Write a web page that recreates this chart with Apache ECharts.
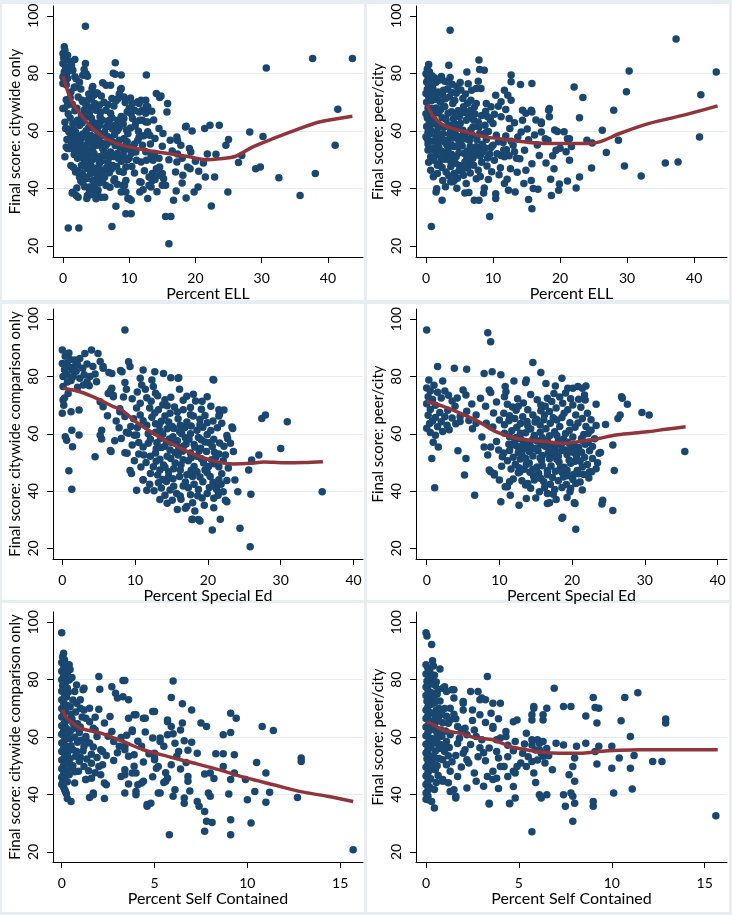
<!DOCTYPE html>
<html><head><meta charset="utf-8">
<script src="https://cdn.jsdelivr.net/npm/echarts@6/dist/echarts.min.js"></script>
<style>html,body{margin:0;padding:0;background:#fff}#c{width:732px;height:915px}</style>
</head><body><div id="c"></div><script>
// ---------- tick labels ----------
const yTicks = [20, 40, 60, 80, 100];
const xTicks40 = [0, 10, 20, 30, 40];
const xTicks15 = [0, 5, 10, 15];

// ---------- axis titles ----------
const xTitles = ['Percent ELL', 'Percent ELL', 'Percent Special Ed', 'Percent Special Ed', 'Percent Self Contained', 'Percent Self Contained'];
const yTitles = ['Final score: citywide only', 'Final score: peer/city', 'Final score: citywide comparison only', 'Final score: peer/city', 'Final score: citywide comparison only', 'Final score: peer/city'];

// ---------- Panel 1: Percent ELL vs citywide ----------
const ellCity = [
[3.4,96.4],[0.2,89.2],[0,86.9],[0.7,86.3],[0.5,84.6],[1.2,84],[0,83.4],[1,82.2],[1.5,81.1],[0.2,80.5],[0,78.8],[0.7,78.2],[0,76.5],[0.5,76],[0.3,88],[0.1,85.5],[0.4,82],[0.6,80],[0.2,77.5],[1.8,84.8],[1.3,82.8],[1,81.1],[1.8,78.8],[1.9,75.3],
[3.4,83.4],[3.2,81.3],[3,79.3],[3.5,79.9],[3.7,79],[7.9,83.7],[7.6,80],[7.9,79.7],[8.8,79.4],[12.6,79.4],
[2,78.1],[2.5,76.9],[1.7,75.2],[1.2,73.5],[2.7,74.6],[4.5,75.4],[4.7,72.5],[5.2,73.1],[6,76.7],[6.5,75.9],[7.2,75.9],[4.4,74.7],[5.1,73.2],[4.3,71.2],[2.3,71.8],[2.9,70.7],
[8.7,74.4],[8.5,72.8],[8,70.5],[7.7,68.7],[8.8,74.7],[8.3,71.2],
[10.5,69.5],[11.3,70.1],[11.8,70.7],[12.5,70.7],[12.8,68.4],[12,67.2],[12.5,66.1],[11.5,66.6],[10.8,67.2],[10.3,66],[11.5,69.5],[12.6,68.6],
[14.1,73],[14.8,72.1],[14.6,71.6],[15.8,69.5],[15.7,66.6],
[9.7,66.6],[9.2,64.3],[10.5,64.3],[10,67.8],[11,63.1],[12,63.7],[12.5,63.1],[11.6,63.7],[12.8,63.1],[12.8,59.7],[13.1,58.5],
[0.5,70.8],[0.7,69],[0.2,67.9],[0,67.8],[0.8,66],[3,70.1],[3.5,68.9],[3.2,67.2],[4,66.1],[5,67.2],[5.7,66.6],[6.5,67.2],[7.2,66.1],[7,63.7],[6,63.7],[5.5,61.9],[6.5,61.3],[7.5,60.7],[8.2,60.1],[8.5,61.3],[8.3,63.7],[8.4,60.8],[6.2,70],[5.5,69],[4.8,69.5],[2.8,65.5],[1.8,67],[0.3,63],[1.5,62.5],[4.5,63],[5.2,60],[8.8,65],
[0.7,60.7],[1.2,58.9],[1.9,59.6],[2.5,61.9],[2.2,63.7],[3,58.9],[3.5,60.1],[4.2,58.4],[4.9,57.8],[1.5,57.3],[0.4,60.8],[0.9,59.7],[0.6,57],[2,56],[2.8,57.5],[3.8,56.5],[5.8,58.5],[6.8,58],[7.8,58.8],[9.8,59],[10.2,61],
[0.7,53.9],[1.5,53.9],[2.5,54.4],[3.5,55],[4.5,53.9],[5.2,55],[6,53.9],[6.7,55.6],[7.5,56.2],[8.5,56.8],[9.2,57.3],[9.7,56.2],[0.5,54.4],[1,53.9],[1.8,53.9],[0.3,51],
[3,52.2],[4,51.5],[4.7,52.2],[5.5,51],[6.5,51.5],[7.2,52.7],[8.2,52.2],[9.2,53.3],[10.3,52.2],[11,52.7],[10.5,54.4],[9.5,55],[10.8,55.5],[11.3,56.8],[11.5,57.9],[12,55],[13.2,55.5],[12.5,52.8],[13.3,51.6],[13.8,52.2],[14.5,50.5],[10,50.5],[2.2,50.5],
[3.2,49.3],[4,48.1],[4.7,46.9],[5.5,48.7],[6,46.4],[5,45.2],[4.2,45.2],[3.7,46.9],[5.7,44],[3.5,44],[2.8,48],[6.8,49],[7.5,48],[8.8,49.5],[9.5,47.5],[6.3,44],[7,45.5],[8.5,46],[1.2,48],[1.9,45.7],[2.5,44],
[11.1,49.8],[11.8,49.2],[12.6,49.8],[13.6,49.8],[14.6,47.5],[14.1,46.9],[13.5,45.2],[13,44],[15,45.2],[14.5,44.6],[15.2,43.4],[15,41.1],[15.5,41.1],
[4.5,42.8],[4,40.5],[4.7,41.1],[5.2,38.7],[3,42],[6.5,41],[7.7,42.8],[7.8,43.4],[9,41.1],[9.3,41.1],[9.5,42.8],[9.5,38.8],[8.8,38.8],[10,36.5],[11.8,42.2],[11.6,42.3],[11.6,38.8],[13,41.1],[13.5,42.8],[13.3,40.5],[12.8,36.5],
[1.5,38.7],[1.4,38.4],[2,37.6],[2.3,37],[3.7,37.6],[3.8,37.6],[4,38.8],[3.6,36.5],[4.8,39.9],[5.3,39.4],[5.8,37],[6.3,37],
[10.3,35.9],[9.8,36.5],[9.5,31.2],[10.3,31.2],[8,33.8],[7.4,26.8],[0.8,26.3],[2.4,26.3],
[14.5,60.8],[15.1,59.1],[15,54.7],[17.2,57.9],[17.3,56.7],[18.5,61.4],[18.6,61.6],[17.3,52],[17.2,49.2],[17,45.7],[17.1,39.1],[16.7,35.9],[15.5,30.3],[16.3,30.3],[16,20.8],[16.5,53],[16,50],[17.8,55],
[19.1,53.9],[19.3,52.7],[18.8,47.5],[19.2,46.9],[18.1,44.6],[18,41.9],[18.6,36.7],[18,50.5],[20,49.5],[20.5,46],[19.8,38.8],[20.4,40.5],[21.8,52],[19.5,60],
[22.2,62],[23.6,62],[21.4,60.8],[21.2,48.9],[21.5,44],[22.9,44],[22.4,33.9],[23.1,51.9],[24.6,55],[25,57],[24.9,38.8],[26.5,49],[27,51.5],[28.2,59.6],[30.2,58.1],[29.8,47.5],[29.1,46.9],[32.6,43.7],[35.8,37.6],[38.1,45.2],[41.1,55],[41.5,67.5],[30.7,81.9],[37.7,85.2],[43.7,85.2],
[1.1,64.5],[1.6,60.4],[2.4,58.2],[2.9,62.8],[3.3,64.7],[3.9,61.2],[4.3,64.4],[4.6,60.9],[5.1,62.7],[5.6,64.9],[6.3,59.6],[6.9,62.4],[7.4,64.6],[7.9,62.1],[9.1,62.4],[9.6,60.3],
[1.3,56.1],[2.1,57.8],[2.6,55.9],[3.2,53.6],[3.9,57.9],[4.4,55.7],[4.8,56.4],[5.4,57.1],[5.9,55.8],[6.4,54.7],[7.1,57.3],[7.9,54.9],[8.6,54.3],[9.9,53.8],
[1.7,51.8],[2.4,52.4],[2.7,50.9],[3.4,50.6],[3.9,53.2],[4.3,49.6],[5.1,50.3],[5.9,49.7],[6.2,52.6],[7,50.8],[7.7,51.1],[8.4,50.4],[9.1,51.6],[9.7,49.9],
[1.6,47.3],[2.2,46.2],[2.9,45.4],[3.1,47.8],[4.4,47.4],[5.2,47.1],[5.9,45.2],[6.6,47.3],[7.3,46.7],[8.1,47.6],[9.1,45.6],
[2.7,42.6],[3.3,40.6],[3.6,43.5],[5.1,43.1],[5.5,41.9],[6,42.6],[7.1,40.4],[8.2,41.5],[2.1,40.2],[4.3,37.9],[5,36.4],
[1.4,69.3],[2.1,67.9],[3.7,70.6],[4.2,68.2],[6.8,69.1],[7.4,71.3],[9.4,69.9],[1.1,71.5],[3.9,72.8],[5.8,72.1],[9.2,71.8],[10.2,71.4],[13.4,66.8],[13.7,63.8],[10.9,61.7],[11.4,59.9],[12.2,58.3],[13.9,57.4],[16.2,56.8],[12.3,46.2],[10.8,45.4],[10.4,47.6],[13.9,43.1],[14.2,38.9],[12.1,39.6]
];
const ellCityFit = [[0,79],[0.75,73.6],[1.5,69.5],[2.8,65.4],[4.5,60.8],[6.5,57.3],[9,55],[12.6,53.3],[16.1,52.1],[19.1,51],[21.6,50],[23.6,50.3],[26.1,51.2],[28.6,54.4],[31.7,57.3],[35.7,60.8],[38.7,63.1],[43.7,65.1]];

// ---------- Panel 2: Percent ELL vs peer/city ----------
const ellPeer = [
[3.6,95],[37.3,91.9],
[0.4,83.1],[3.4,82.8],[7.9,84.6],[8,81.3],[8.7,81.1],[6.1,80.5],[3.6,78.6],[5.1,76.8],[7.8,77.3],[7.5,74.7],[8.2,74.7],[12.7,79.4],[12.7,77.1],[14.1,76.1],[15.8,76.5],
[0,79.9],[0.3,78.5],[0.1,77],[0.5,76],[0.2,74.5],[0.7,78],[1.5,76.9],[1,75],[0,73],[0.4,72],[0.8,70.5],[0.1,70],[0.3,68],[0.6,66.5],[0,66],[0.2,64.5],[0.5,63],[0.1,61.5],[0.3,59.5],[0,58],
[3.2,74.6],[2.5,72.5],[3.5,71.8],[4.5,73.1],[5.2,74.2],[5.5,71.3],[1.8,73.5],[2.2,70],[1.5,68],[2.8,68.5],[4,69.5],[4.8,67],
[6.7,70.7],[7.5,69.5],[7.2,68.2],[9,69.5],[9.7,68.4],[10.4,72.4],[11.2,70.1],[11.7,74.1],[12.7,70.7],
[9.2,64.9],[10,62.6],[11.2,64.9],[12.4,64.3],[12.5,60.8],[14.4,67.2],[14.9,66.1],[15.7,67.2],[15.8,66.6],[14.4,63.7],[14.2,59.6],[18.4,67.8],[18.3,67.2],[18.4,64.9],[17.2,63.1],[17.2,62.6],[19.2,60.3],[17.2,59.6],[21.4,57.3],[21.1,57.3],[22.1,75.3],[23.4,71.6],
[0.7,60.2],[1.5,57.9],[2.5,59],[3.2,56.8],[4,57.5],[6,63.7],[7,61.4],[5.5,60.2],[4.5,58.5],[6.5,56.8],[7.5,54.5],[8.5,52.7],[5.7,52.2],[4.5,51],[3.5,49.8],[6.5,48.6],[5.5,46.9],[2,62],[3,64],[4.2,62.5],[5,65],[1.2,64],[8,59],[9,57],[8.8,62],[10.5,58.5],[11.5,56],[10,55],[9.5,52],
[0.7,51],[2,48.6],[0.7,46.3],[1.7,45.2],[2.5,42.8],[4,42.3],[4.2,45.2],[3,45.7],[1.2,54],[2.2,53],[3,51.5],[0.3,55.5],[1.8,56],[4.8,54.5],[6.2,53],[7,50.5],[5,48],
[6,41.7],[5.8,38.4],[3.7,42.3],[4.2,42.8],[1.6,39.9],[1.5,38.8],[2.4,35.9],[0.8,26.8],[7.5,43.4],[8.7,40.2],[7.9,35.9],[7.2,35.9],[9.5,30.3],[10.4,38.2],[10.4,36.5],[11.7,41.7],
[10.2,49.8],[11.2,51.5],[11.7,51],[12.6,46.9],[13.5,50.5],[12,53.5],[13,55],[14.7,53.3],[14.9,46.3],[15.8,48.6],[16.9,51.5],[14.6,41.7],[13.3,38.8],[15.3,36.2],[15.8,33],[16.7,39.7],[16,40],[15.7,42.8],
[18.2,56.8],[19.4,53.3],[20,54],[19.1,46.9],[18.7,37.6],[19.8,39.4],[21.1,42.6],[21.4,49.8],[22.4,40.2],[22.9,44],[22.9,64.6],[24,56.8],[24.8,55.8],[24.7,47.1],[26.3,60.2],[26.9,52.5],[28,67.2],[28.7,56.8],[29.6,47.8],[29.9,73.6],[30.3,80.8],[32.1,44.3],[35.7,48.9],[37.6,49.2],[40.8,57.9],[41,72.6],[43.3,80.5],
[0.2,81.5],[0.5,80.6],[0.9,79.2],[1.3,78.4],[1.9,77.6],[2.3,78.9],[2.8,77.3],[0.4,75.9],[0.9,73.7],[1.4,72.3],[1.2,71.1],[2.6,74.1],[3.9,76.2],[4.6,75.4],[3.2,77.1],[6.3,76.4],[6.8,74.1],[5.9,72.8],[6.2,69.6],
[0.3,65.5],[0.9,67.8],[1.1,62.6],[1.9,66.2],[2.4,64.6],[2.7,61.3],[3.4,62.1],[3.8,66.7],[4.4,65.1],[5.1,62.6],[5.8,66.4],[6.4,64.9],[7.3,65.9],[7.8,63.1],[8.3,65.4],[8.9,66.8],[9.6,63.9],[10.2,65.8],[10.8,68.6],[11.9,67.4],[12.2,72.4],
[0.2,57.2],[0.6,58.9],[1.1,56.4],[1.6,59.7],[2.1,57.3],[2.8,56.1],[3.5,58.9],[3.8,55.1],[4.3,60.4],[4.9,56.6],[5.3,58.1],[5.9,59.3],[6.1,57.2],[6.9,58.6],[7.6,56.9],[8.4,55.4],[9.3,59.8],[9.7,54.2],[10.8,56.2],[11.9,58.2],[12.7,56.4],[13.7,57.9],
[0.3,53.4],[0.9,53.6],[1.5,51.7],[1.9,54.3],[2.6,52.6],[3.3,53.8],[3.8,51.9],[4.2,54.6],[4.9,52.3],[5.4,54.8],[6.8,52.2],[7.3,51.6],[7.9,53.6],[8.8,54.1],[9.2,50.6],[10.6,52.1],[11.6,53.4],[12.4,51.4],[13.2,52.8],[14,50.3],
[0.4,49.1],[1.2,49.8],[1.7,48.1],[2.4,47.3],[2.8,50.2],[3.7,47.6],[4.4,48.8],[4.9,46.1],[5.8,49.2],[6.2,47.1],[7.1,48.1],[7.8,46.3],[8.3,49.1],[9.1,47.8],[9.8,45.8],[11.1,47.2],[13.6,45.6],
[1.1,44.1],[3.4,44.4],[4.7,43.6],[5.6,44.6],[6.6,45.4],[8.1,44.2],[9.3,43.1],[10.9,44.8],[12.1,43.2],[2.9,40.6],[4.6,40.1],[6.4,38.6],[8.6,38.4],[12.3,39.4],
[15.1,60.7],[16.2,58.6],[17.8,57.3],[16.6,55.1],[18.9,51.4],[17.9,48.9],[20.6,59.7],[19.6,59.8],[20.9,52.8],[21.7,54.6],[13.2,62.8],[15.3,56.9],[16.4,63.8],[18.6,43.2],[19.9,41.6],
[0.6,71.4],[1.7,70.8],[2.9,71.2],[3.8,73.4],[4.3,70.6],[5.6,68.4],[6.6,67.1],[1.3,66.3],[2.2,67.4],[3.3,66.1],[4.1,64.2],[5.4,66.8],[7.1,63.8],[0.8,62.4],[1.8,61.2],[3.7,60.1],[4.8,61.6],[6.7,60.4],[7.9,61.3],[8.9,59.4],[2.6,56.8],[3.1,55.3],[5.2,55.9],[6.6,54.6],[7.4,53.2],[1.4,53.2],[2.3,50.6],[4.1,50.2],[6.1,50.4],[8.1,51.3]
];
const ellPeerFit = [[0.15,69.2],[1,65.4],[2.2,62.6],[4,60.8],[6,59.7],[8.5,58.1],[11.9,57],[15.9,55.9],[19.9,55.6],[23.4,55.6],[25.9,56.2],[28.9,59.1],[33.3,62.6],[38.3,65.4],[43.5,68.7]];

// ---------- Panel 3: Percent Special Ed vs citywide ----------
const spedCity = [
[8.6,96.3],
[0,89.3],[4,89.3],[4.9,88.1],[0,84.6],[0.6,84.6],[1.1,86],[1.7,85.8],[2.4,86.3],[0.8,83.5],[1.3,82.3],[0.1,80],[0.6,80.6],[1.5,80],[2.4,79.4],[3,80.6],[3.4,78.2],[2.9,77.1],[3.8,80],[4.5,80.9],[4.7,78.2],[5.6,82.9],[5.6,83.5],[6.4,81.4],[6.8,81.1],[8,82.1],[8.2,81.7],[9.1,85.2],[9.3,83.5],[0.1,76.5],[0.8,74.1],[0.1,71.8],[0,67.2],[1.2,67.7],[2.3,68.3],
[0.4,59],[0.6,57.8],[0.9,47.1],[1.3,40.7],[1.4,55.5],[2.3,59.6],[1.3,61.3],[0.3,72.5],[0.2,70],
[4.5,52],[5.4,58.2],[5.4,61.3],[5.2,59.5],[6.7,53.8],[6.6,54.2],[5.6,69.5],[6.3,74.1],[6.8,75.9],[6.6,75],[7,73],[7,73.5],[7.9,67.7],[7.9,68.8],[5.2,71.2],
[11.1,82.3],[12.7,81.7],[13.9,81.1],[14.9,79.6],[15.9,79.4],[16,79.6],[20.7,79],[20.8,78.8],
[8.6,77.9],[10.7,79.4],[10.9,77.1],[11.4,75.6],[12.3,78.8],[12.5,76.5],[12.8,74.2],[8.8,75.6],[8.4,72.9],[14.1,71.9],[16.1,75.6],[18,73.8],[18.3,71.5],[17.6,69.2],[19.9,73],[21.5,68.4],[21.5,66.2],[22.2,68.3],[21.6,66.9],[21.9,63.7],
[10.2,69],[10.7,70.7],[12,69],[13.2,68.4],[14.1,66.2],[14.8,67.2],[9.8,65.3],[10.7,66.6],[11.6,63],[12.8,63.5],[13.4,61.2],[14.4,61.8],[15.9,65.3],[16.2,63],[17.1,64.1],[18,66.2],[18.9,65.1],[19.9,63.9],
[16.4,60],[17.6,60],[18.7,58.7],[19.9,59.8],[20.8,58.1],[12.1,58.1],[13,56.9],[14.1,55.7],[15,57],[16,55.2],[11.1,55.4],[8.8,60.6],[9.9,59.5],[9.1,60.2],[10.5,57],[11.8,60],[15.2,59],[13.5,58.5],
[12.1,52.2],[12.8,53.3],[13.4,51.1],[14.4,52.2],[15.5,49.8],[16.6,51],[17.6,53.3],[18.5,52.2],[19.4,49.8],[20.5,51],[21.5,53],[19,55],[17,56.5],[15.5,53.5],[11.5,50],[10.5,53],
[12.5,48.5],[13.4,47.4],[14.6,46.8],[16.2,47.4],[17.1,45.7],[18.5,46.8],[19.6,47.4],[20.3,45.1],[21.5,48.5],[11.1,44],[12,42.4],[13.2,42.9],[14.6,45.1],[14.8,40.4],[15.7,39.2],[16.6,41.8],[17.6,38.7],[18.7,40.6],[19.9,39.2],[20.8,37.5],[13.4,37.1],[14.4,35.8],[17.1,34.6],[16.9,34],[17.8,30.1],[18.7,30.1],[17.9,30.2],[18.9,29.6],[20.6,26.4],[21.7,30.2],[24.4,27],[25.8,20.6],
[8.6,53.4],[8.9,53.2],[9.3,47.2],[9.5,46.2],[10.2,40.3],[11.6,40.3],[11.1,43.9],
[22.2,55.7],[23.3,62.4],[23.4,61.9],[23.1,56.7],[23.5,53.8],[22.4,52.6],[21.5,44],[21.2,41.5],[21.2,40.6],[22.4,36.8],[22.6,36.3],[23.7,43.9],[24.1,39.8],[25.6,47.4],[25.9,38.9],[26,50.9],[27,52.6],[27.4,65.4],[27.9,66.6],[30,54.9],[30.9,64.2],[35.7,39.8],
[0.4,87.1],[0.9,88.2],[1.6,83.4],[2.1,84.1],[2.8,82.9],[3.4,84.4],[4.2,83.5],[1.2,78.6],[2.1,76.3],[3.7,76.8],[0.7,78.1],[0.3,82.4],[1.9,81.9],[5.2,85.3],[3.1,88.1],
[9.6,72.3],[10.3,74.6],[11.6,72.6],[12.2,71.4],[13.1,73.3],[13.8,70.2],[14.9,72.8],[15.4,69.4],[16.6,71.7],[17.1,73.1],[19.2,71.4],[20.4,69.6],[19.1,68.6],[16.6,68.4],
[10.3,62.2],[11.1,64.6],[12.3,65.8],[13.6,64.4],[14.6,64.1],[15.3,61.9],[16.8,62.1],[17.7,62.7],[18.5,61.3],[19.3,62.3],[20.4,61.2],[21.3,62.1],[20.7,64.5],[22.6,59.4],
[10.2,59.6],[12.8,60.6],[13.8,59.9],[14.7,58.2],[15.8,57.6],[16.9,58.6],[18.1,56.3],[19.6,57.2],[20.6,55.6],[21.6,56.8],[22.7,58.4],[11.8,56.7],[13.6,55.2],[14.8,54.4],[16.5,53.9],[18.2,55.4],[19.8,53.8],[20.9,53.6],
[11.2,52.6],[12.9,50.4],[13.9,49.1],[14.9,51.4],[15.9,52.6],[16.3,49.2],[17.3,50.6],[18.1,48.6],[19.1,51.3],[20.1,48.6],[20.9,49.6],[22.1,50.6],[22.8,48.1],[12.1,46.2],[13.1,45.6],[14.1,48.3],[15.2,44.3],[16.1,45.1],[17.7,47.3],[18.9,44.9],[19.3,43.3],[20.7,43.1],[21.9,46.1],[22.6,43.7],
[12.6,40.1],[13.6,41.1],[14.3,43.4],[15.3,41.7],[16.2,38.3],[17.3,41.2],[18.1,42.4],[19.2,37.6],[20.2,41.3],[21.4,38.6],[22.1,39.8],[15.1,36.8],[16.3,37.2],[17.9,35.9],[19.5,35.1],[20.8,34.2],[18.2,33.1],[15.8,33.6],[14.1,38.6],
[6.2,66.3],[7.4,64.5],[8.6,66.1],[9.4,62.6],[7.8,62.1],[7.2,57.6],[8.1,58.4],[9.6,56.1],[9.9,50.6],[10.8,48.4],
[12.7,67.3],[14.4,69.8],[15.8,67.6],[17.6,66.7],[19.6,66.4],[13.3,63.1],[15.1,62.6],[18.9,63.2],[16.1,60.8],[17.4,58.1],[19.1,57.9],[14.3,57.3],[12.9,54.8],[16.6,55.6],[18.8,54.1],[21.1,51.9],[17.7,51.7],[15.3,47.8],[17.9,45.1],[19.9,46.4],[16.9,43.2],[18.6,38.4],[21.8,42.4],[13.8,44.1],[20.2,56.9]
];
const spedCityFit = [[0.1,75.9],[2.4,74.7],[4.7,72.4],[7,69.5],[8.2,68.3],[9.8,64.8],[12.1,60.8],[14.4,57.3],[16.7,54.4],[18.9,52],[21.2,50.3],[23.5,49.5],[25.8,49.7],[27.7,50.2],[30.4,49.9],[33.2,50],[35.8,50.3]];

// ---------- Panel 4: Percent Special Ed vs peer/city ----------
const spedPeer = [
[0,96.3],[8.4,95.3],[8.8,92.2],
[3.8,82.9],[5.5,82.6],[1.5,83.5],[7.9,81.1],[9,81.7],[10.2,80.6],[14.6,84.9],[15.7,81.4],[12,78.5],[13.7,78.8],[13.6,77.9],[18.6,79.4],[16.4,77.6],[2.2,78.5],[0.3,78.8],[21.9,76.7],
[0,76],[0.5,75],[1,77],[1.5,74.5],[0.2,73],[0.8,72],[0,70.5],[0.5,68.5],[1.2,70],[2,72.5],[2.5,75],[3,73.5],[3.5,71.5],[4.2,72.5],[5,75.3],[5.4,73.6],[1.8,67.5],[2.5,66],[0.2,66.5],[0.8,64.5],[0,62],[0.5,60.5],[1.2,59.5],[1.5,62.5],[2.8,63],[2,64.2],[3.5,65.5],[4,63.5],
[10.8,76.5],[10.9,74.7],[10.7,73],[8.6,75.3],[8.8,74.4],[12.5,72.3],[11.8,69.4],[12.3,68.2],[11.1,70.3],
[17.7,76.7],[19.4,75.9],[20.1,75.9],[20.8,76.5],[21.4,75.9],[21.7,73.6],[17.5,74.1],[15.7,70.1],[14.6,66.6],[13.2,66],[16.2,66.6],[16.9,67.8],[17.8,69],[18.7,70.7],[18.9,67.2],[19.4,68.4],[20.1,70.1],[20.5,66.6],[21.4,65.4],[22.6,64.9],[23.3,70.3],[24.6,63.3],[26.3,65.4],[26.6,66.6],[26.9,72.4],[26.8,73],[27.6,70.3],[29.6,67.5],[30.6,66.6],[35.5,53.8],
[6.3,61.8],[6.8,66.6],[8.2,63.7],[7.9,55.4],[8.8,55.4],[10,64.8],[10.7,60.2],[11.4,59],[11.8,56.1],[10.4,52],
[12.4,62.3],[13.6,60.4],[14.3,61.7],[15.6,63.1],[16.4,61.8],[17.6,60.7],[18.3,62.6],[19.6,61.2],[20.4,62.3],[21.6,59.8],
[12.1,57.2],[12.9,58.3],[14.2,56.4],[15.1,57.7],[15.9,58.6],[17.2,55.8],[18.1,57.4],[18.8,58.2],[20.2,56.3],[20.9,55.2],[22.2,57.1],
[11.4,54.2],[12.6,53.4],[13.4,54.7],[14.6,52.3],[15.3,54.1],[16.7,53.2],[17.4,52.4],[18.6,54.2],[19.3,52.8],[20.6,51.9],[21.3,53.6],[22.4,54.1],
[11.1,50.6],[12.2,49.4],[12.9,51.2],[14.1,49.8],[15.2,48.4],[15.8,50.7],[17.1,48.8],[18.2,50.2],[18.9,48.3],[19.8,49.7],[21.1,50.4],[22.1,49.3],
[12.6,46.4],[13.4,47.6],[14.7,45.3],[15.4,46.2],[16.6,47.1],[17.3,44.8],[18.6,46.6],[19.4,45.4],[20.7,47.2],[21.6,45.8],
[8.8,46.8],[9.3,45.6],[10,43.9],[11.4,43.3],[11.1,41.5],[10.2,36.3],[12.7,35.1],[13.7,37.4],[13.9,42.7],[14.3,41],[15.5,39.8],[16.6,39.2],[16.9,35.9],[16.6,35.7],[17.8,37.1],[18.7,30.9],[18.6,30.5],[20.5,26.7],[20.3,35.9],[20.4,35.7],[21.4,40.4],[19.7,39.8],[20.5,42.7],[22.7,46.8],[22.4,46.8],[23.5,49.9],[23.9,53.5],[23.7,53.2],[25.6,56.1],[25.8,47.2],[24.2,36.8],[24.1,35.5],[25.6,33.2],[11.5,38.6],[10.8,41.5],
[6.6,38.6],[1.1,41.2],[0.7,51.4],[4.3,54.1],[5.4,51.4],[5.2,45.6],[8.6,47.4],[9.3,46.2],
[10.6,67.2],[11.4,66.3],[12.6,69.6],[13.3,70.8],[13.9,68.4],[14.3,73.7],[15.2,71.9],[15.7,68.1],[16.3,69.6],[16.6,72.4],[17.2,71.3],[18.3,72.9],[19.8,72.3],[20.9,72.1],[21.2,69.3],[22.1,67.2],[21.8,71.8],[19.1,74.3],[17.4,65.6],[15.1,65.1],
[10.7,63.2],[11.3,64.6],[12.1,65.4],[12.9,63.6],[13.8,64.3],[14.9,64.1],[16.1,64.9],[17,63.7],[17.9,64.8],[18.6,65.7],[19.7,63.9],[20.8,63.8],[21.9,62.6],[22.6,61.3],[23.3,62.9],
[11.7,61.1],[12.9,60.2],[13.9,62.8],[14.8,59.4],[15.6,60.6],[16.9,59.3],[17.9,59.4],[19.1,60.1],[20.1,58.9],[21.3,58.4],[22.2,60.1],[23.1,58.3],
[11.3,56.4],[12.5,55.6],[13.6,56.2],[14.6,54.9],[15.7,56.2],[16.3,55.7],[17.7,54.2],[18.5,56.1],[19.8,55.2],[20.4,54.2],[21.8,56.4],[22.8,55.6],
[10.6,53.3],[11.9,51.8],[13.1,52.6],[14.1,53.8],[15.9,52.4],[16.9,51.3],[18.1,52.2],[19.6,50.8],[20.1,53.6],[21.7,51.8],[22.8,51.4],[23.3,47.8],
[11.6,47.7],[12.7,48.2],[13.7,49.3],[14.6,47.6],[15.9,48.9],[16.6,45.7],[17.7,46.9],[18.4,48.3],[19.3,47.3],[20.2,45.8],[21.4,48.4],[22.3,44.6],
[11.9,44.2],[13.1,43.6],[14.8,43.9],[15.7,44.4],[17,42.4],[18.1,43.6],[19.2,42.3],[20.1,44.1],[21.1,43.2],[16.2,41.2],[17.6,40.6],[18.6,41.3],[19.3,37.8],[15,37.6],
[6.2,70.4],[7.4,72.4],[8.1,69.6],[9.2,67.3],[9.6,71.1],[6.8,63.7],[7.6,58.9],[9.1,62.4],[9.6,57.3],[8.4,52.6],[9.9,54.4],[10.3,48.7],[1.2,65.7],[0.4,63.6],[2.9,68.2],[3.9,69.6],[4.6,66.1],[2.2,60.8],[3.1,61.4],[0.9,57.1],[1.6,55.4],[4.6,64.3],[5.8,64.7],[5.5,67.9],
[12.3,58.7],[13.3,57.1],[14.6,58.1],[16.6,57.4],[17.8,56.3],[19.4,57.1],[21.4,57.7],[12.9,55.1],[14,55.7],[15.1,55.1],[16.9,54.6],[19.1,54.4],[20.9,53.9],[13.6,51.5],[15.6,51.6],[17.9,51.1],[20.4,50.4],[12.8,46.7],[14.2,46.6],[18.8,44.9],[20.9,46.1],[16.1,43.3],[13.6,42.1],[19.8,40.9],[17.4,38.9]
];
const spedPeerFit = [[0,71.2],[2.2,69.7],[4.9,66.9],[7.2,64.2],[9.5,60.8],[11.8,58.8],[14.1,57.8],[16.4,57.3],[18.7,56.7],[21,57.3],[23.7,58.4],[26,59.6],[28.3,60.2],[30.6,60.8],[32.9,61.6],[35.6,62.5]];

// ---------- Panel 5: Percent Self Contained vs citywide ----------
const selfCity = [
[0,96.4],[0.1,89.2],[0.05,88],[0.15,87],[0,86],[0.2,85.5],[0.4,85.2],[0.1,84],[0,83],[0.25,82.5],[0.3,82.3],[0.1,81],[0,80],[0.4,79.9],[0.2,79],[0.05,78],[0.3,77],[0,76],[0.15,75],[0.25,74],[0,73],[0.1,72],[0.3,71],[0,70],[0.2,69],[0.1,68],[0,67],[0.3,66],[0.15,65],[0,64],[0.25,63],[0.1,62],[0,61],[0.3,60],[0.15,59],[0,58],[0.2,57],[0.1,56],[0,55],[0.3,54],[0.15,53],[0,52],[0.2,51],[0.1,50],[0,49],[0.25,48],[0.1,47],[0,46],[0.15,45],[0.3,44.5],[0,43.5],[0.1,42.5],[0.16,41.7],[0.2,41.1],[0.5,37.6],
[0.8,78.2],[0.7,75.9],[1.15,76.5],[1.2,77],[0.8,71.8],[1,70.1],[1,73],[1.2,69.5],[1.5,70.1],[1.3,66.6],[0.5,68],[0.6,65],[0.45,62],[0.7,60],[0.5,57],[0.8,55],[0.45,52.5],[0.6,50],[0.4,46.9],[0.9,48.1],[1.3,45.2],[1.2,49.8],[1.2,56.8],[1.3,60.2],[1.3,59.3],[1.7,63.1],[1.8,62.5],[1,53],[0.7,44],[1.5,58],[1.6,54],[1,63.5],[1.1,67],
[2,81.1],[2.05,76.7],[2.7,77.6],[2.9,75.3],[3,73.6],[3.3,79.7],[3.4,79.7],[3.3,74.1],[3.6,73],[2,69.7],[2.6,67.2],[3.9,67.8],[4,67.8],[4.4,66.6],[4.5,66.6],[4.9,68.9],[5,68.9],[3.6,66.6],
[1.9,60.2],[2.1,55.6],[2.2,55],[2.8,58.5],[2.7,62],[3.8,62.5],[3.8,62],[3.4,56.8],[3.1,56.8],[3.4,55.6],[3.6,53.3],[3.9,53.9],[4.3,56.8],[4.9,59.7],[5.3,58.5],[5.3,59.7],[5.7,60.8],[5.5,56.8],[5.7,66],[5.7,65.4],[5.9,63.7],[6.5,64.9],[6.4,62.5],[6.1,57.9],[6.3,55],[6.2,53.3],[6.8,55.4],[7.3,54.4],[7.5,64.9],[7.8,63.7],[6,79.6],[5.9,73.8],[6.5,71.6],[7,69.5],
[2,49.8],[2.2,50.4],[2.1,46.9],[1.6,45.7],[1.3,45.2],[1.5,39],[1.7,39.9],[1.7,40.5],[2.4,43.4],[2.3,44],[2.3,38.6],[3.4,40.5],[3.2,46.3],[3.4,48.6],[3.4,46.9],[3.8,47.5],[4,47.5],[4.1,43.4],[4.3,44],[4,41.1],[4,39.9],[4.4,44.6],[4.6,35.9],[4.6,36.5],[4.8,37],[5.2,40.5],[5.3,40.5],[5.2,49.8],[5.1,49.2],[5,54.4],[5,52.1],[5,52.7],[5.5,44.2],[5.6,44.6],[5.7,45.7],[5.9,50.4],[5.8,26],[6,39.4],[6.1,41.7],[6.6,38.8],[6.6,37],[6.8,46.3],[6.8,44.6],[7.3,37.6],[7.4,35.9],[7.7,27.2],[7.7,34.1],[7.9,40.5],[8,39.4],[7.8,30.7],[8.1,30.3],[8,47.5],[8.3,54.2],[8.7,54.2],[8.7,49.8],[8.7,60.8],[9.1,61.6],[9.1,68.3],[9.4,66.6],[9,40.2],[9.1,31.2],[9.1,26],[9.1,45.2],[9.3,53.9],[9.3,47.5],[9.9,45.2],[10,38.2],[10.2,30.1],[10.4,41.1],[10.5,51.2],[10.8,63.7],[11.4,62.3],[11,47.5],[11,37.3],[11.2,40.8],[12.7,39],[12.9,52.7],[12.9,51.5],[15.7,20.8],
[0.45,83.6],[0.55,80.8],[0.6,72.9],[0.45,70.6],[0.75,68.8],[0.55,66.3],[0.85,64.7],[0.65,63.1],[0.45,59.4],[0.85,58.2],[0.6,55.6],[0.75,53.3],[0.5,49.3],[0.7,47.9],[0.95,61.6],[1.05,58.9],[1.15,55.3],[0.95,51.6],[1.35,52.4],[1.45,48.3],[1.6,50.9],[1.8,47.6],[1.9,52.9],[1.7,56.6],[1.5,65.4],[1.8,66.9],[2.3,64.9],[2.5,60.3],[2.4,53.6],[2.8,51.9],[3,54.6],[3.2,59.9],[3.5,60.7],[4.1,58.6],[4.5,61.8],[4.7,54.2],[4.4,51.3],[3.9,49.9],[3.6,43.7],[4.9,46.2],[5.6,47.6],[6.4,48.9],[6.7,51.2],[6,61.2],[6.6,58.7],[7,58.2],[6.9,41.2],[7.7,47.2],[8.2,45.6],[0.35,75.6],[0.4,55.4],[0.35,50.6],[0.05,44.4],[0.25,40.3],[0.3,38.6]
];
const selfCityFit = [[0.05,69.5],[0.2,67.2],[0.6,64.9],[1,63.1],[2.1,61.4],[3.3,58.5],[4.4,55.6],[5.7,53.3],[7.1,51],[8.5,48.6],[10,45.7],[11.4,43.4],[12.8,41.1],[14.3,39.4],[15.7,37.6]];

// ---------- Panel 6: Percent Self Contained vs peer/city ----------
const selfPeer = [
[0,96.4],[0.05,95.2],[0.3,92.3],[0,85.2],[0.75,83.7],[0.1,84],[0.2,83],[0,82],[0.15,81],[0.3,80.5],[0.05,79.5],[0.25,78.5],[0,77.5],[0.1,76.5],[0.3,75.5],[0,74.5],[0.2,73.5],[0.05,72.5],[0.3,71.5],[0.1,70.5],[0,69.5],[0.25,68.5],[0.1,67.5],[0,66.5],[0.3,65.5],[0.15,64.5],[0,63.5],[0.2,62.5],[0.1,61.5],[0,60.5],[0.3,59.5],[0.15,58.5],[0,57.5],[0.25,56.5],[0.1,55.5],[0,54.5],[0.2,53.5],[0.05,52.5],[0.3,51.5],[0.1,50.5],[0,49.5],[0.2,48.5],[0.1,47.5],[0,46.5],[0.25,45.5],[0.1,44.5],[0,43.5],[0.2,42.5],[0.1,41.5],[0,40.5],[0.1,39.4],[0,38.4],[0.1,38.2],[0.45,35.3],
[0.5,78],[0.6,75],[0.45,72],[0.7,70],[0.5,67.2],[0.7,67.2],[0.45,64],[0.6,61.4],[0.5,58],[0.7,56],[0.45,53],[0.6,50],[0.5,48.6],[0.9,77],[1.1,75.9],[1,77.6],[1.4,76.5],[1.5,73.6],[1.5,76.5],[1.3,70.1],[1.3,66],[1.7,63.7],[1.3,60.8],[1.1,58.5],[0.9,52.1],[1.1,50.4],[0.9,44.6],[1.3,48.1],[1.3,41.1],[1.6,39.4],[0.9,45.2],[1,55],[1.2,53.5],[0.8,62.5],[0.9,65],[1,70],[1.5,68],[1.6,38.8],[1.5,41.7],
[2,72.4],[2,71.8],[2.4,75.9],[2.8,75.9],[3,73.6],[2.9,73],[3.2,73],[3.3,81.1],[3.6,71.8],[4,71.8],[2,69.5],[2.5,69.5],[3.5,68.3],[2.9,67.8],[2.2,60.8],[2.7,60.2],[3,59.1],[2.6,62.5],[2.1,63.1],[3.6,63.7],[3.6,63.1],[4.3,62],[3.8,59.1],[4,59.7],[4.3,60.2],[4.8,58.5],[4.7,65.4],[4.9,66],[5.4,61.4],[5.7,59.1],[5.7,57.3],[6,59.1],[6.1,55.6],[6.1,57.9],[5.8,70.1],[5.8,70.7],[5.7,66],[5.7,67.8],[6.3,66],[6.3,67.8],[6.5,70.1],[6.9,77],
[2.1,55.6],[2,54.4],[2.2,52.1],[3.4,56.2],[3.8,55],[3.9,52.7],[4.2,49.8],[3.6,48.1],[3.3,46.3],[3.8,45.7],[4.4,46.3],[4.7,48.1],[4.9,49.8],[5.1,51],[5.2,54.4],[5.7,51.5],[3.2,51.8],[2.6,47.5],[2.3,51],[2.2,42.3],[3.6,45.2],[4,49.8],[5.4,49.8],[4.8,47.5],[4.7,42.8],[4.8,38.8],[4.5,37],[4.5,36.8],[3.4,36.7],[3.4,37],[5.8,47.5],[5.9,44.2],[6.3,53.3],[6.8,48.6],[5.7,27],
[6.3,58.5],[6.5,56],[6.2,54.5],[6.6,53.5],[6,52],[6.4,51],[5.9,55.5],
[6.1,39.9],[6.2,38.8],[6.5,39.9],[7.4,39.9],[7.5,35.9],[7.8,40.5],[7.9,39.4],[7.9,30.7],[8,37],[9,37.6],[9,35.9],[10.1,40.5],[11.1,41.9],
[7,57.9],[7.4,57.3],[8.1,56.8],[8.6,57.9],[9.1,55],[9.3,56.8],[10,56.8],[10.4,52.7],[11,60.2],[11.2,53.6],[12.2,51.5],[12.7,51.5],[9.2,50.6],[10,49.2],[11,49.2],[8,52.7],[7.9,49.8],[7.7,46.9],[8,44.6],
[7.4,70.7],[7.8,70.7],[9,73.8],[9.1,70.3],[9.3,70.1],[8.6,67.4],[9.2,64.9],[10.5,65.7],[10.7,73.8],[11.4,75.5],[12.9,66.3],[12.9,64.9],[15.6,32.6],
[0.45,81.6],[0.55,79.2],[0.65,76.6],[0.45,74.2],[0.75,72.6],[0.55,69.4],[0.85,68.1],[0.65,65.6],[0.45,62.6],[0.85,60.3],[0.6,59.6],[0.75,57.4],[0.5,55.2],[0.7,52.6],[0.45,50.5],[0.65,46.6],[0.55,44.2],[0.45,41.8],[0.95,57.3],[1.05,62.1],[1.2,64.8],[1.1,67.3],[1.25,56.4],[1.4,51.4],[1.6,53.6],[1.7,57.8],[1.8,59.6],[1.9,62.7],[1.6,66.4],[1.9,49.6],[1.7,46.3],[1.2,44.1],[2.4,57.4],[2.9,56.3],[2.8,53.2],[3.1,54.6],[2.5,65.8],[3.2,65.1],[3.9,66.4],[4.4,57.2],[4.7,55.3],[4.4,53.2],[5.3,57.6],[5.5,53.2],[2.7,44.6],[3.1,42.9],[3.9,42.1],[0.35,86.6],[0.4,84.8],[0.3,37.6]
];
const selfPeerFit = [[0.05,65.4],[0.4,64.3],[0.9,62.5],[1.8,61.4],[2.7,59.7],[3.6,59.1],[4.5,56.8],[5.4,55.6],[6.3,54.7],[7.2,54.4],[8.3,54.4],[9.3,55],[10.4,55.4],[11.5,55.6],[12.9,55.6],[15.7,55.6]];

// ---------- layout ----------
const FONT = 'Lato, "DejaVu Sans", sans-serif';
const DOT = '#1a476f', FIT = '#90353b';
const panels = [
  {pts: ellCity,  fit: ellCityFit,  xt: xTicks40, g:{left:53, top:6,   width:310, height:251}, x:[-1.5,45.3], y:[16.2,103.4]},
  {pts: ellPeer,  fit: ellPeerFit,  xt: xTicks40, g:{left:416,top:6,   width:311, height:251}, x:[-1.49,44.9], y:[16.2,103.4]},
  {pts: spedCity, fit: spedCityFit, xt: xTicks40, g:{left:53, top:309, width:310, height:250}, x:[-1.28,41.3], y:[16.3,103.6]},
  {pts: spedPeer, fit: spedPeerFit, xt: xTicks40, g:{left:416,top:309, width:311, height:250}, x:[-1.47,41.3], y:[16.3,103.6]},
  {pts: selfCity, fit: selfCityFit, xt: xTicks15, g:{left:53, top:612, width:310, height:250}, x:[-0.47,16.23], y:[16.5,103.6]},
  {pts: selfPeer, fit: selfPeerFit, xt: xTicks15, g:{left:416,top:612, width:311, height:250}, x:[-0.54,16.2], y:[16.5,103.6]}
];
const txt = {color:'#000', fontFamily: FONT, fontSize: 14};
const cells = [[2,4,362,296],[367,4,362,296],[2,304,362,296],[367,304,362,296],[2,603,362,309],[367,603,362,309]];

const option = {
  backgroundColor: '#e6eef1',
  animation: false,
  graphic: cells.map(c => ({type:'rect', z:-100, silent:true, shape:{x:c[0], y:c[1], width:c[2], height:c[3]}, style:{fill:'#ffffff'}})),
  grid: panels.map(p => Object.assign({containLabel:false}, p.g)),
  xAxis: panels.map((p,i) => ({
    gridIndex:i, type:'value', min:p.x[0], max:p.x[1],
    axisLine:{show:true, onZero:false, lineStyle:{color:'#000', width:1}},
    axisTick:{show:true, length:6, customValues:p.xt, lineStyle:{color:'#000', width:1}},
    axisLabel:Object.assign({customValues:p.xt, margin:14}, txt),
    splitLine:{show:false},
    name:xTitles[i], nameLocation:'middle', nameGap:23,
    nameTextStyle:Object.assign({}, txt, {fontSize:16})
  })),
  yAxis: panels.map((p,i) => ({
    gridIndex:i, type:'value', min:p.y[0], max:p.y[1],
    axisLine:{show:true, onZero:false, lineStyle:{color:'#000', width:1}},
    axisTick:{show:true, length:6, customValues:yTicks, lineStyle:{color:'#000', width:1}},
    axisLabel:Object.assign({customValues:yTicks, rotate:90, margin:13}, txt),
    splitLine:{show:true, showMinLine:false, showMaxLine:false, lineStyle:{color:'#e4eef0', width:1}},
    name:yTitles[i], nameLocation:'middle', nameGap:30, nameRotate:90,
    nameTextStyle:Object.assign({}, txt, {fontSize:15})
  })),
  series: panels.flatMap((p,i) => [
    {type:'scatter', xAxisIndex:i, yAxisIndex:i, data:p.pts, symbol:'circle', symbolSize:7.5,
     itemStyle:{color:DOT, opacity:1}, silent:true, z:2},
    {type:'line', xAxisIndex:i, yAxisIndex:i, data:p.fit, showSymbol:false, smooth:0.3,
     lineStyle:{color:FIT, width:3.5}, silent:true, z:3}
  ])
};
const chart = echarts.init(document.getElementById('c'));
chart.setOption(option);
</script></body></html>
